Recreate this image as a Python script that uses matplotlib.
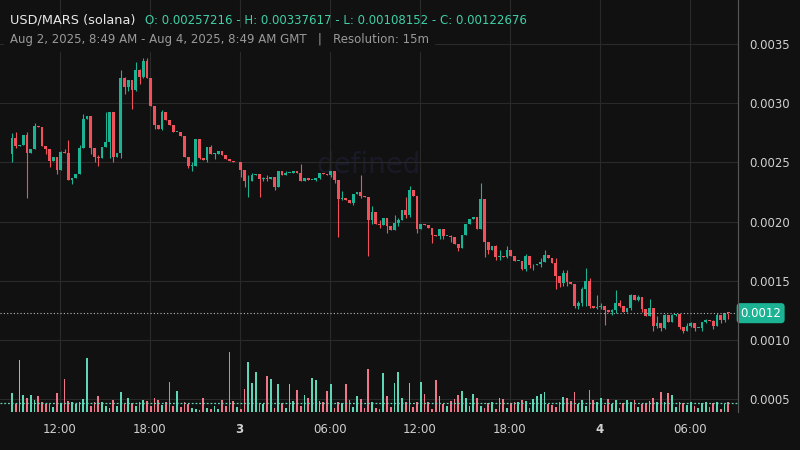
import numpy as np
import matplotlib.pyplot as plt

# ── Data (15m candles, Aug 2 08:49 → Aug 4 08:49 GMT) ──
FIRST_OPEN = 0.00257216
closes = [
    0.00271, 0.00264, 0.00265, 0.00273, 0.00258, 0.00261, 0.00281, 0.00280, 0.00264, 0.00261,
    0.00251, 0.00255, 0.00244, 0.00259, 0.00258, 0.00235, 0.00237, 0.00240, 0.00262, 0.00287,
    0.00289, 0.00262, 0.00255, 0.00254, 0.00263, 0.00267, 0.00293, 0.00255, 0.00258, 0.00321,
    0.00314, 0.00320, 0.00311, 0.00328, 0.00322, 0.00336, 0.00321, 0.00298, 0.00282, 0.00278,
    0.00293, 0.00286, 0.00282, 0.00276, 0.00276, 0.00272, 0.00255, 0.00247, 0.00247, 0.00270,
    0.00254, 0.00252, 0.00263, 0.00257, 0.00257, 0.00260, 0.00256, 0.00253, 0.00251, 0.00250,
    0.00250, 0.00244, 0.00234, 0.00234, 0.00239, 0.00240, 0.00236, 0.00237, 0.00236, 0.00238,
    0.00229, 0.00243, 0.00239, 0.00241, 0.00241, 0.00243, 0.00241, 0.00234, 0.00237, 0.00235,
    0.00235, 0.00237, 0.00241, 0.00240, 0.00239, 0.00243, 0.00235, 0.00219, 0.00220, 0.00218,
    0.00216, 0.00223, 0.00225, 0.00222, 0.00221, 0.00201, 0.00208, 0.00198, 0.00197, 0.00203,
    0.00196, 0.00193, 0.00199, 0.00201, 0.00210, 0.00206, 0.00227, 0.00222, 0.00194, 0.00198,
    0.00197, 0.00195, 0.00189, 0.00188, 0.00194, 0.00188, 0.00188, 0.00187, 0.00181, 0.00178,
    0.00189, 0.00198, 0.00202, 0.00204, 0.00194, 0.00219, 0.00183, 0.00176, 0.00179, 0.00170,
    0.00171, 0.00170, 0.00176, 0.00171, 0.00167, 0.00167, 0.00160, 0.00171, 0.00163, 0.00163,
    0.00164, 0.00166, 0.00172, 0.00169, 0.00165, 0.00154, 0.00148, 0.00157, 0.00149, 0.00147,
    0.00129, 0.00131, 0.00143, 0.00150, 0.00129, 0.00127, 0.00128, 0.00129, 0.00125, 0.00124,
    0.00125, 0.00131, 0.00129, 0.00124, 0.00127, 0.00138, 0.00134, 0.00136, 0.00126, 0.00120,
    0.00127, 0.00112, 0.00114, 0.00110, 0.00121, 0.00115, 0.00121, 0.00122, 0.00111, 0.00108,
    0.00112, 0.00114, 0.00110, 0.00110, 0.00115, 0.00117, 0.00116, 0.00112, 0.00121, 0.00117,
    0.00123, 0.00122676,
]
# notable wicks: index -> (high, low)
wicks = {
    0: (0.00275, 0.00250), 1: (0.00276, 0.00262), 4: (0.00276, 0.00220), 6: (0.00283, 0.00279),
    9: (0.00264, 0.00257), 10: (0.00261, 0.00246), 12: (0.00255, 0.00240), 13: (0.00260, 0.00255),
    14: (0.00261, 0.00258), 15: (0.00269, 0.00235), 16: (0.00237, 0.00232), 18: (0.00265, 0.00262),
    19: (0.00291, 0.00286), 21: (0.00262, 0.00257), 22: (0.00255, 0.00250), 23: (0.00256, 0.00247),
    25: (0.00293, 0.00264), 26: (0.00293, 0.00254), 27: (0.00293, 0.00250), 29: (0.00328, 0.00254),
    30: (0.00322, 0.00308), 31: (0.00320, 0.00310), 32: (0.00320, 0.00295), 33: (0.00335, 0.00310),
    34: (0.00329, 0.00316), 35: (0.00338, 0.00321), 36: (0.00338, 0.00321), 37: (0.00299, 0.00298),
    38: (0.00298, 0.00278), 40: (0.00294, 0.00277), 47: (0.00255, 0.00245), 48: (0.00250, 0.00243),
    49: (0.00270, 0.00247), 50: (0.00270, 0.00253), 52: (0.00263, 0.00250), 53: (0.00265, 0.00257),
    54: (0.00258, 0.00253), 61: (0.00250, 0.00238), 62: (0.00244, 0.00229), 63: (0.00239, 0.00221),
    64: (0.00241, 0.00235), 66: (0.00240, 0.00221), 67: (0.00238, 0.00234), 68: (0.00239, 0.00234),
    70: (0.00238, 0.00227), 73: (0.00243, 0.00241), 77: (0.00249, 0.00234), 81: (0.00237, 0.00234),
    82: (0.00241, 0.00236), 85: (0.00243, 0.00238), 86: (0.00243, 0.00233), 87: (0.00235, 0.00187),
    88: (0.00226, 0.00218), 91: (0.00223, 0.00214), 93: (0.00239, 0.00220), 95: (0.00221, 0.00171),
    96: (0.00213, 0.00198), 98: (0.00201, 0.00195), 100: (0.00203, 0.00190), 102: (0.00206, 0.00193),
    103: (0.00203, 0.00196), 104: (0.00210, 0.00201), 105: (0.00221, 0.00203), 106: (0.00230, 0.00204),
    108: (0.00222, 0.00190), 112: (0.00195, 0.00182), 114: (0.00194, 0.00185), 115: (0.00194, 0.00185),
    117: (0.00189, 0.00183), 119: (0.00181, 0.00175), 120: (0.00189, 0.00178), 125: (0.00233, 0.00194),
    126: (0.00219, 0.00170), 127: (0.00183, 0.00173), 129: (0.00180, 0.00168), 130: (0.00176, 0.00168),
    132: (0.00179, 0.00169), 136: (0.00167, 0.00159), 137: (0.00173, 0.00158), 138: (0.00171, 0.00161),
    139: (0.00164, 0.00159), 141: (0.00169, 0.00162), 142: (0.00176, 0.00166), 145: (0.00169, 0.00143),
    146: (0.00154, 0.00145), 147: (0.00159, 0.00146), 148: (0.00159, 0.00146), 150: (0.00147, 0.00127),
    151: (0.00133, 0.00126), 152: (0.00145, 0.00129), 153: (0.00161, 0.00129), 154: (0.00152, 0.00127),
    156: (0.00138, 0.00126), 157: (0.00131, 0.00126), 158: (0.00129, 0.00113), 160: (0.00126, 0.00121),
    161: (0.00142, 0.00123), 162: (0.00134, 0.00128), 165: (0.00139, 0.00125), 167: (0.00138, 0.00133),
    168: (0.00136, 0.00124), 170: (0.00135, 0.00121), 171: (0.00127, 0.00108), 172: (0.00120, 0.00110),
    173: (0.00114, 0.00108), 174: (0.00122, 0.00109), 176: (0.00122, 0.00119), 177: (0.00122, 0.00120),
    178: (0.00122, 0.00109), 179: (0.00111, 0.00106), 180: (0.00114, 0.00108), 181: (0.00115, 0.00111),
    182: (0.00114, 0.00108), 184: (0.00115, 0.00108), 185: (0.00118, 0.00114), 187: (0.00117, 0.00109),
    188: (0.00123, 0.00112), 189: (0.00121, 0.00114), 190: (0.00123, 0.00115), 191: (0.00123, 0.00118),
}
volumes = [
    19, 8, 52, 17, 14, 17, 12, 16, 10, 8, 8, 5, 19, 9, 33, 11, 10, 8, 10, 13,
    54, 6, 10, 16, 10, 6, 4, 12, 6, 20, 8, 14, 9, 6, 10, 12, 11, 6, 14, 12,
    7, 10, 30, 6, 21, 5, 10, 8, 4, 3, 2, 14, 4, 3, 6, 3, 12, 6, 60, 11,
    5, 3, 23, 50, 29, 40, 9, 8, 36, 33, 4, 28, 9, 4, 28, 11, 22, 6, 17, 14,
    34, 32, 11, 10, 21, 28, 4, 10, 9, 28, 12, 5, 16, 13, 4, 43, 10, 4, 3, 39,
    16, 5, 29, 40, 14, 10, 29, 5, 10, 30, 18, 10, 3, 32, 16, 8, 6, 11, 13, 17,
    21, 14, 6, 18, 14, 6, 4, 9, 10, 3, 14, 13, 4, 9, 10, 10, 12, 11, 4, 13,
    16, 18, 20, 8, 7, 5, 10, 15, 14, 11, 20, 8, 12, 6, 22, 12, 10, 14, 7, 13,
    8, 12, 4, 9, 12, 10, 12, 5, 8, 9, 11, 14, 10, 20, 10, 19, 17, 5, 10, 9,
    7, 10, 6, 4, 9, 10, 5, 9, 10, 3, 8, 10,
]
opens = [FIRST_OPEN] + closes[:-1]

tick_pos = [12.73, 36.73, 60.73, 84.73, 108.73, 132.73, 156.73, 180.73]
tick_labels = ["12:00", "18:00", "3", "06:00", "12:00", "18:00", "4", "06:00"]
price_ticks = [0.0005, 0.0010, 0.0015, 0.0020, 0.0025, 0.0030, 0.0035]

BG = "#111111"
GRID = "#2a2a2a"
UP = "#1bb394"
DOWN = "#f0515a"
UP_VOL = "#5fd6b5"
DOWN_VOL = "#f0768a"
TXT = "#d0d0d0"

fig = plt.figure(figsize=(8, 4.5), dpi=100, facecolor=BG)
ax = fig.add_axes([0, 38 / 450, 738 / 800, 412 / 450], facecolor=BG)
vax = ax.twinx()

x = np.arange(len(closes))
for i in x:
    o, c = opens[i], closes[i]
    hi, lo = wicks.get(i, (max(o, c), min(o, c)))
    hi, lo = max(hi, o, c), min(lo, o, c)
    col = UP if c >= o else DOWN
    ax.vlines(i, lo, hi, color=col, lw=0.8, zorder=3)
    h = max(abs(c - o), 0.000006)
    ax.bar(i, h, bottom=min(o, c), width=0.75, color=col, zorder=4, linewidth=0)
    vax.bar(i, volumes[i], width=0.5, color=UP_VOL if c >= o else DOWN_VOL, linewidth=0, zorder=2)

ax.set_xlim(-3.2, 193.6)
ax.set_ylim(0.000392, 0.003872)
vax.set_ylim(0, 60 / 0.145)
vax.axhline(np.mean(volumes) * 0.7, color=UP_VOL, ls=(0, (1.5, 1.5)), lw=0.9)
vax.set_yticks([])

ax.set_xticks(tick_pos)
ax.set_xticklabels(tick_labels)
for lbl in ax.get_xticklabels():
    lbl.set_color(TXT)
    lbl.set_fontsize(8.5)
    if lbl.get_text() in ("3", "4"):
        lbl.set_fontweight("bold")
ax.yaxis.tick_right()
ax.set_yticks(price_ticks)
ax.set_yticklabels([f"{p:.4f}" for p in price_ticks], color=TXT, fontsize=8.5)
ax.tick_params(length=0, pad=8)
ax.grid(True, color=GRID, lw=0.8)
for s in ["top", "left", "bottom"]:
    ax.spines[s].set_visible(False)
    vax.spines[s].set_visible(False)
ax.spines["right"].set_color("#555555")
vax.spines["right"].set_color("#555555")

# last price
last = closes[-1]
ax.axhline(last, color="#bbbbbb", ls=(0, (1, 2)), lw=0.8, zorder=5)
ax.text(1.003, last, "0.0012", transform=ax.get_yaxis_transform(), va="center", ha="left",
        color="white", fontsize=8.5, zorder=6,
        bbox=dict(boxstyle="round,pad=0.3", fc="#1bb394", ec="none"))

# watermark
ax.text(0.5, 0.6, "defined", transform=ax.transAxes, ha="center", va="center",
        fontsize=20, color="#191927", zorder=1)

# header
fig.text(10 / 800, 1 - 20 / 450, "USD/MARS (solana)", color="#e8e8e8", fontsize=9.3, va="center")
fig.text(145 / 800, 1 - 20 / 450,
         "O: 0.00257216 - H: 0.00337617 - L: 0.00108152 - C: 0.00122676",
         color="#3fd0a8", fontsize=8.5, va="center")
fig.text(10 / 800, 1 - 40 / 450,
         "Aug 2, 2025, 8:49 AM - Aug 4, 2025, 8:49 AM GMT   |   Resolution: 15m",
         color="#9a9a9a", fontsize=8.5, va="center",
         bbox=dict(fc=BG, ec="none", pad=4))

fig.savefig("out.png", dpi=100, facecolor=BG)
